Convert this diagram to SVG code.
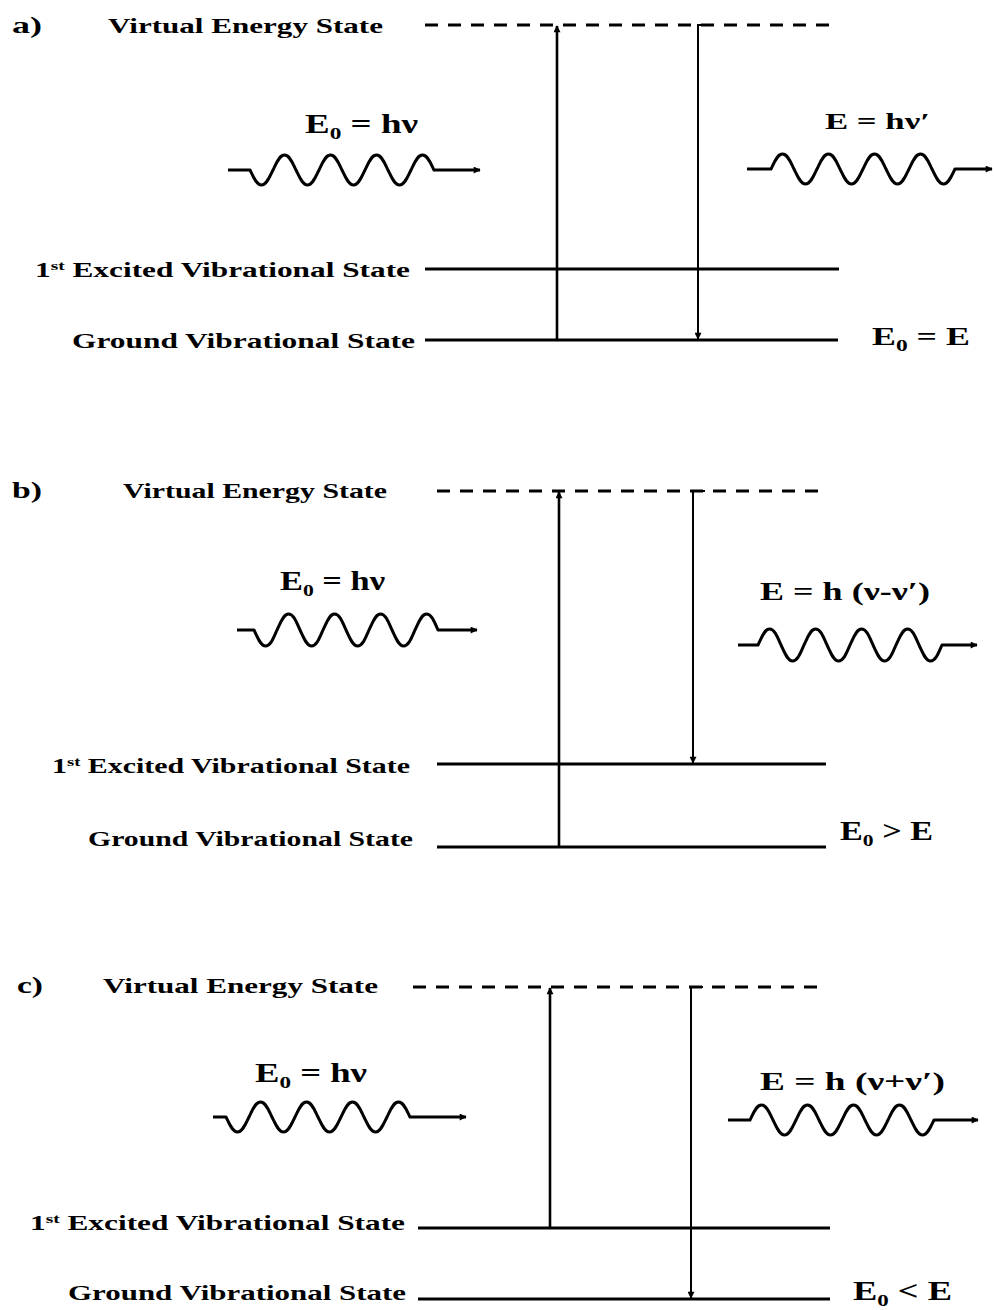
<svg xmlns="http://www.w3.org/2000/svg" width="995" height="1310" viewBox="0 0 995 1310">
<style>
.t{font-family:"Liberation Serif","Times New Roman",serif;font-weight:bold;fill:#000}
.lvl{stroke:#000;stroke-width:3;fill:none}
.virt{stroke:#000;stroke-width:3;fill:none;stroke-dasharray:13 10}
.up{stroke:#000;stroke-width:2.6;fill:none}
.dn{stroke:#000;stroke-width:2;fill:none}
.wave{stroke:#000;stroke-width:3;fill:none;stroke-linejoin:round}
</style>
<defs>
<marker id="ah" viewBox="0 0 10 10" refX="9" refY="5" markerWidth="9" markerHeight="7" markerUnits="userSpaceOnUse" orient="auto">
<path d="M0,0 L10,5 L0,10 z" fill="#000"/>
</marker>
</defs>
<rect width="995" height="1310" fill="#fff"/>

<g id="panel-a">
<g id="a-label"><text class="t" x="12" y="33" font-size="23" textLength="30" lengthAdjust="spacingAndGlyphs">a)</text></g>
<g id="a-virtual"><text class="t" x="108" y="33" font-size="21" textLength="275" lengthAdjust="spacingAndGlyphs">Virtual Energy State</text><line class="virt" x1="425" y1="25" x2="832" y2="25"/></g>
<g id="a-excited"><text class="t" x="35" y="277" font-size="21" textLength="375" lengthAdjust="spacingAndGlyphs">1<tspan font-size="13" dy="-7">st</tspan><tspan dy="7"> Excited Vibrational State</tspan></text><line class="lvl" x1="425" y1="269" x2="839" y2="269"/></g>
<g id="a-ground"><text class="t" x="72" y="348" font-size="21" textLength="343" lengthAdjust="spacingAndGlyphs">Ground Vibrational State</text><line class="lvl" x1="425" y1="340" x2="838" y2="340"/></g>
<g id="a-in"><text class="t" x="305" y="133" font-size="27" textLength="113" lengthAdjust="spacingAndGlyphs">E<tspan font-size="17" dy="6">0</tspan><tspan dy="-6"> = hν</tspan></text></g>
<g id="a-out"><text class="t" x="825" y="129" font-size="24" textLength="105" lengthAdjust="spacingAndGlyphs">E = hν′</text></g>
<g id="a-rel"><text class="t" x="872" y="345" font-size="26" textLength="98" lengthAdjust="spacingAndGlyphs">E<tspan font-size="17" dy="6">0</tspan><tspan dy="-6"> = E</tspan></text></g>
</g>

<g id="panel-b">
<g id="b-label"><text class="t" x="12" y="498" font-size="23" textLength="30" lengthAdjust="spacingAndGlyphs">b)</text></g>
<g id="b-virtual"><text class="t" x="123" y="498" font-size="21" textLength="264" lengthAdjust="spacingAndGlyphs">Virtual Energy State</text><line class="virt" x1="437" y1="491" x2="820" y2="491"/></g>
<g id="b-excited"><text class="t" x="52" y="773" font-size="21" textLength="358" lengthAdjust="spacingAndGlyphs">1<tspan font-size="13" dy="-7">st</tspan><tspan dy="7"> Excited Vibrational State</tspan></text><line class="lvl" x1="437" y1="764" x2="826" y2="764"/></g>
<g id="b-ground"><text class="t" x="88" y="846" font-size="21" textLength="325" lengthAdjust="spacingAndGlyphs">Ground Vibrational State</text><line class="lvl" x1="437" y1="847" x2="826" y2="847"/></g>
<g id="b-in"><text class="t" x="280" y="590" font-size="27" textLength="105" lengthAdjust="spacingAndGlyphs">E<tspan font-size="17" dy="6">0</tspan><tspan dy="-6"> = hν</tspan></text></g>
<g id="b-out"><text class="t" x="760" y="600" font-size="25" textLength="170" lengthAdjust="spacingAndGlyphs">E = h (ν-ν′)</text></g>
<g id="b-rel"><text class="t" x="840" y="840" font-size="27" textLength="93" lengthAdjust="spacingAndGlyphs">E<tspan font-size="17" dy="6">0</tspan><tspan dy="-6"> &gt; E</tspan></text></g>
</g>

<g id="panel-c">
<g id="c-label"><text class="t" x="17" y="993" font-size="23" textLength="26" lengthAdjust="spacingAndGlyphs">c)</text></g>
<g id="c-virtual"><text class="t" x="103" y="993" font-size="21" textLength="275" lengthAdjust="spacingAndGlyphs">Virtual Energy State</text><line class="virt" x1="413" y1="987" x2="825" y2="987"/></g>
<g id="c-excited"><text class="t" x="30" y="1230" font-size="21" textLength="375" lengthAdjust="spacingAndGlyphs">1<tspan font-size="13" dy="-7">st</tspan><tspan dy="7"> Excited Vibrational State</tspan></text><line class="lvl" x1="418" y1="1228" x2="830" y2="1228"/></g>
<g id="c-ground"><text class="t" x="68" y="1300" font-size="21" textLength="338" lengthAdjust="spacingAndGlyphs">Ground Vibrational State</text><line class="lvl" x1="418" y1="1299" x2="830" y2="1299"/></g>
<g id="c-in"><text class="t" x="255" y="1082" font-size="27" textLength="112" lengthAdjust="spacingAndGlyphs">E<tspan font-size="17" dy="6">0</tspan><tspan dy="-6"> = hν</tspan></text></g>
<g id="c-out"><text class="t" x="760" y="1090" font-size="25" textLength="185" lengthAdjust="spacingAndGlyphs">E = h (ν+ν′)</text></g>
<g id="c-rel"><text class="t" x="853" y="1300" font-size="27" textLength="99" lengthAdjust="spacingAndGlyphs">E<tspan font-size="17" dy="6">0</tspan><tspan dy="-6"> &lt; E</tspan></text></g>
</g>

<g id="connectors">
<path class="up" d="M557 340 V26" marker-end="url(#ah)"/>
<path class="dn" d="M710 25 H698 V339" marker-end="url(#ah)"/>
<path class="wave" marker-end="url(#ah)" d="M228 170 H250 c3.83 7.85 6.5 15 11.5 15 c5 0 7.67 -7.15 11.5 -15 c3.83 -7.85 6.5 -15 11.5 -15 c5 0 7.67 7.15 11.5 15 c3.83 7.85 6.5 15 11.5 15 c5 0 7.67 -7.15 11.5 -15 c3.83 -7.85 6.5 -15 11.5 -15 c5 0 7.67 7.15 11.5 15 c3.83 7.85 6.5 15 11.5 15 c5 0 7.67 -7.15 11.5 -15 c3.83 -7.85 6.5 -15 11.5 -15 c5 0 7.67 7.15 11.5 15 c3.83 7.85 6.5 15 11.5 15 c5 0 7.67 -7.15 11.5 -15 c3.83 -7.85 6.5 -15 11.5 -15 c5 0 7.67 7.15 11.5 15 H480"/>
<path class="wave" marker-end="url(#ah)" d="M747 169 H771 c3.83 -7.85 6.5 -15 11.5 -15 c5 0 7.67 7.15 11.5 15 c3.83 7.85 6.5 15 11.5 15 c5 0 7.67 -7.15 11.5 -15 c3.83 -7.85 6.5 -15 11.5 -15 c5 0 7.67 7.15 11.5 15 c3.83 7.85 6.5 15 11.5 15 c5 0 7.67 -7.15 11.5 -15 c3.83 -7.85 6.5 -15 11.5 -15 c5 0 7.67 7.15 11.5 15 c3.83 7.85 6.5 15 11.5 15 c5 0 7.67 -7.15 11.5 -15 c3.83 -7.85 6.5 -15 11.5 -15 c5 0 7.67 7.15 11.5 15 c3.83 7.85 6.5 15 11.5 15 c5 0 7.67 -7.15 11.5 -15 H992"/>
<path class="up" d="M559 847 V492" marker-end="url(#ah)"/>
<path class="dn" d="M705 491 H693 V763" marker-end="url(#ah)"/>
<path class="wave" marker-end="url(#ah)" d="M237 630 H254 c3.83 7.85 6.5 16 11.5 16 c5 0 7.67 -7.15 11.5 -16 c3.83 -7.85 6.5 -16 11.5 -16 c5 0 7.67 7.15 11.5 16 c3.83 7.85 6.5 16 11.5 16 c5 0 7.67 -7.15 11.5 -16 c3.83 -7.85 6.5 -16 11.5 -16 c5 0 7.67 7.15 11.5 16 c3.83 7.85 6.5 16 11.5 16 c5 0 7.67 -7.15 11.5 -16 c3.83 -7.85 6.5 -16 11.5 -16 c5 0 7.67 7.15 11.5 16 c3.83 7.85 6.5 16 11.5 16 c5 0 7.67 -7.15 11.5 -16 c3.83 -7.85 6.5 -16 11.5 -16 c5 0 7.67 7.15 11.5 16 H477"/>
<path class="wave" marker-end="url(#ah)" d="M738 645 H758 c3.83 -7.85 6.5 -16 11.5 -16 c5 0 7.67 7.15 11.5 16 c3.83 7.85 6.5 16 11.5 16 c5 0 7.67 -7.15 11.5 -16 c3.83 -7.85 6.5 -16 11.5 -16 c5 0 7.67 7.15 11.5 16 c3.83 7.85 6.5 16 11.5 16 c5 0 7.67 -7.15 11.5 -16 c3.83 -7.85 6.5 -16 11.5 -16 c5 0 7.67 7.15 11.5 16 c3.83 7.85 6.5 16 11.5 16 c5 0 7.67 -7.15 11.5 -16 c3.83 -7.85 6.5 -16 11.5 -16 c5 0 7.67 7.15 11.5 16 c3.83 7.85 6.5 16 11.5 16 c5 0 7.67 -7.15 11.5 -16 H977"/>
<path class="up" d="M550 1228 V988" marker-end="url(#ah)"/>
<path class="dn" d="M703 987 H691 V1298" marker-end="url(#ah)"/>
<path class="wave" marker-end="url(#ah)" d="M213 1117 H226 c3.83 7.85 6.5 15 11.5 15 c5 0 7.67 -7.15 11.5 -15 c3.83 -7.85 6.5 -15 11.5 -15 c5 0 7.67 7.15 11.5 15 c3.83 7.85 6.5 15 11.5 15 c5 0 7.67 -7.15 11.5 -15 c3.83 -7.85 6.5 -15 11.5 -15 c5 0 7.67 7.15 11.5 15 c3.83 7.85 6.5 15 11.5 15 c5 0 7.67 -7.15 11.5 -15 c3.83 -7.85 6.5 -15 11.5 -15 c5 0 7.67 7.15 11.5 15 c3.83 7.85 6.5 15 11.5 15 c5 0 7.67 -7.15 11.5 -15 c3.83 -7.85 6.5 -15 11.5 -15 c5 0 7.67 7.15 11.5 15 H466"/>
<path class="wave" marker-end="url(#ah)" d="M728 1120 H750 c3.83 -7.85 6.5 -15 11.5 -15 c5 0 7.67 7.15 11.5 15 c3.83 7.85 6.5 15 11.5 15 c5 0 7.67 -7.15 11.5 -15 c3.83 -7.85 6.5 -15 11.5 -15 c5 0 7.67 7.15 11.5 15 c3.83 7.85 6.5 15 11.5 15 c5 0 7.67 -7.15 11.5 -15 c3.83 -7.85 6.5 -15 11.5 -15 c5 0 7.67 7.15 11.5 15 c3.83 7.85 6.5 15 11.5 15 c5 0 7.67 -7.15 11.5 -15 c3.83 -7.85 6.5 -15 11.5 -15 c5 0 7.67 7.15 11.5 15 c3.83 7.85 6.5 15 11.5 15 c5 0 7.67 -7.15 11.5 -15 H978"/>
</g>
</svg>
